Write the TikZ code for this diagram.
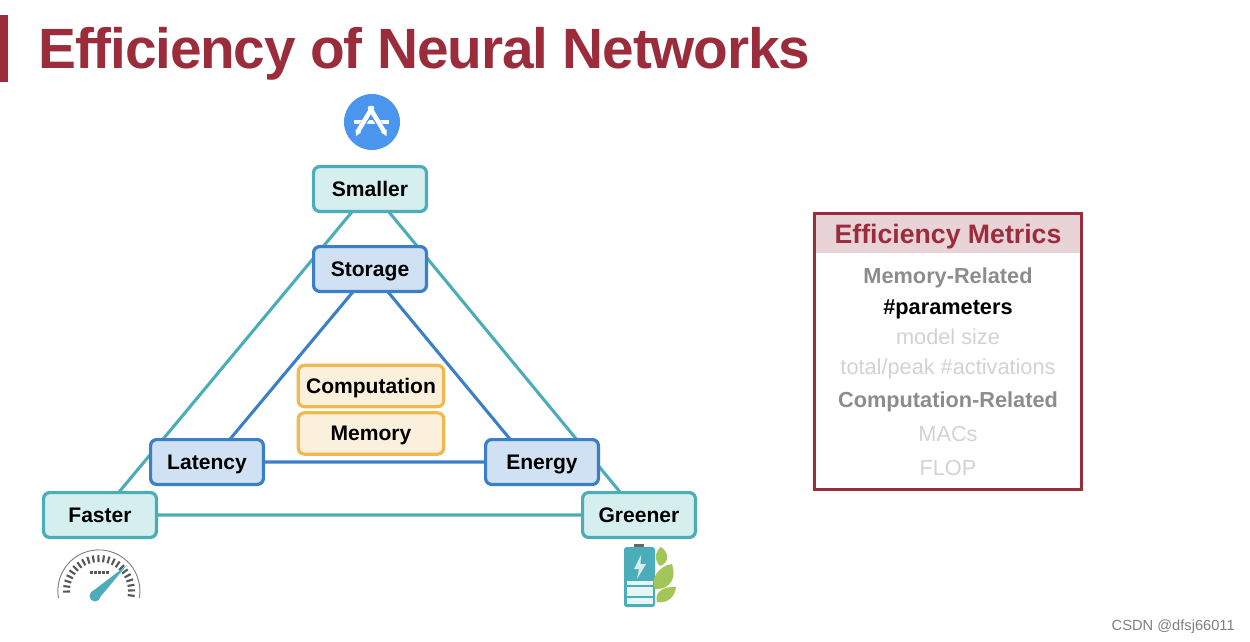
\documentclass[tikz,border=0pt]{standalone}
\usepackage{fontspec}
\setmainfont{Liberation Sans}
\newfontfamily\titlefont[LetterSpace=-2.1]{Liberation Sans}
\usetikzlibrary{backgrounds}
\definecolor{titlered}{HTML}{9B2C3C}
\definecolor{headerred}{HTML}{E8D3D7}
\definecolor{tealline}{HTML}{4BADB9}
\definecolor{tealfill}{HTML}{D5EFEF}
\definecolor{blueline}{HTML}{3B7FC8}
\definecolor{bluefill}{HTML}{D0E1F3}
\definecolor{orangeline}{HTML}{F0B84E}
\definecolor{orangefill}{HTML}{FBF0DC}
\definecolor{appblue}{HTML}{4A96EE}
\definecolor{leafgreen}{HTML}{A3C659}
\definecolor{midgray}{HTML}{8C8C8C}
\definecolor{lightgray}{HTML}{D2D2D2}
\tikzset{
 goalbox/.style={draw=tealline,fill=tealfill,line width=2.4pt,rounded corners=4.5pt,minimum width=84.6pt,minimum height=33.6pt,inner sep=0pt,text height=14pt,text depth=3.5pt,font=\fontsize{15.8}{18}\selectfont\bfseries},
 metricbox/.style={goalbox,draw=blueline,fill=bluefill},
 basebox/.style={goalbox,draw=orangeline,fill=orangefill,minimum width=109pt,minimum height=31pt},
 goalline/.style={draw=tealline,line width=2.3pt},
 metricline/.style={draw=blueline,line width=2.3pt},
 headtext/.style={anchor=base,font=\fontsize{16.3}{18}\selectfont\bfseries,text=midgray,inner sep=0pt},
 itemtext/.style={anchor=base,font=\fontsize{16.3}{18}\selectfont,text=lightgray,inner sep=0pt},
}
\begin{document}
\begin{tikzpicture}[x=0.75pt,y=-0.75pt]
\useasboundingbox (0,0) rectangle (1250,642);
%title
 \fill[titlered] (0,15) rectangle (8,82);
 \node[anchor=base west,inner sep=0pt,text=titlered,font=\fontsize{42.6}{50}\titlefont\bfseries] (title) at (38,68.3) {Efficiency of Neural Networks};
%outer triangle
 \node[goalbox] (smaller) at (370,189) {Smaller};
 \node[goalbox] (faster) at (100,515) {Faster};
 \node[goalbox] (greener) at (639,515) {Greener};
%inner triangle
 \node[metricbox] (storage) at (370,269) {Storage};
 \node[metricbox] (latency) at (207,462) {Latency};
 \node[metricbox] (energy) at (542,462) {Energy};
%centre boxes
 \node[basebox] (computation) at (371,386) {Computation};
 \node[basebox] (memory) at (371,433.5) {Memory};
%lines go under the boxes
 \begin{scope}[on background layer]
	\draw[goalline] ([xshift=0.75pt]smaller.center) -- (faster.center) -- (greener.center) -- (smaller.center);
	\draw[metricline] ([xshift=1.5pt]storage.center) -- ([xshift=3pt]latency.center) -- (energy.center);
	\draw[metricline] ([xshift=-0.75pt]storage.center) -- ([xshift=-9.75pt]energy.center);
 \end{scope}
%app icon
 \fill[appblue] (372,122) circle (28);
 \fill[white] (354.3,120) rectangle (389,124.3);
 \draw[appblue,line width=4.4pt] (371,112) -- (358,131);
 \draw[appblue,line width=4.4pt] (371,112) -- (384,131);
 \draw[white,line width=3.4pt,line cap=round] (372,108) -- (358.5,130.5);
 \fill[white] (355.5,129.5) -- (361,132.5) -- (356,136) -- cycle;
 \draw[white,line width=3.4pt,line cap=round] (370,108) -- (383.5,130.5);
 \fill[white] (381,132.5) -- (386.5,129.5) -- (386.5,136) -- cycle;
%gauge
 \draw[gray,line width=0.7pt] (58.5,598) arc (170:370:41);
 \foreach \a in {-8,1,...,188}
	\draw[black!65,line width=1.6pt] ({99+29*cos(\a)},{591-29*sin(\a)}) -- ({99+36*cos(\a)},{591-36*sin(\a)});
 \foreach \i in {0,1,2,3,4}
	\fill[black!65] (90+\i*4,571) rectangle +(3.2,3);
 \fill[tealline] (91.5,592) -- (127,565) -- (98.5,599) -- cycle;
 \fill[tealline] (95,596) circle (5.5);
%battery
 \fill[black!60] (634,544) rectangle (644,548);
 \fill[tealline,rounded corners=2pt] (624,547) rectangle (655,607);
 \fill[tealfill!60!white] (627,581) rectangle (653,604);
 \draw[tealline,line width=0.8pt] (627,586) -- (653,586) (627,597) -- (653,597);
 \fill[tealfill] (641,555) -- (634,569) -- (639,569) -- (637,579) -- (646,564) -- (640.5,564) -- cycle;
%leaves
 \fill[leafgreen] (661,547) .. controls (670,553) and (669,563) .. (660,566) .. controls (654,561) and (655,551) .. (661,547) -- cycle;
 \fill[leafgreen] (672,564) .. controls (677,578) and (670,590) .. (655,589) .. controls (650,580) and (658,566) .. (672,564) -- cycle;
 \fill[leafgreen] (676,587) .. controls (675,597) and (667,604) .. (657,602) .. controls (654,592) and (664,586) .. (676,587) -- cycle;
%metrics panel
 \fill[headerred] (815,213) rectangle (1081,253);
 \draw[titlered,line width=2.5pt] (814.7,213.5) rectangle (1081.3,489.7);
 \node[anchor=base,inner sep=0pt,text=titlered,font=\fontsize{20}{24}\selectfont\bfseries] (paneltitle) at (948,243.5) {Efficiency Metrics};
 \node[headtext] (memrelated) at (948,283) {Memory-Related};
 \node[headtext,text=black] (parameters) at (948,314) {\#parameters};
 \node[itemtext] (modelsize) at (948,344) {model size};
 \node[itemtext] (activations) at (948,374) {total/peak \#activations};
 \node[headtext] (comprelated) at (948,407) {Computation-Related};
 \node[itemtext] (macs) at (948,441.5) {MACs};
 \node[itemtext] (flop) at (948,475) {FLOP};
%watermark
 \node[anchor=base east,inner sep=0pt,text=black!50,font=\fontsize{11}{12}\selectfont] (mark) at (1235,630) {CSDN @dfsj66011};
\end{tikzpicture}
\end{document}
